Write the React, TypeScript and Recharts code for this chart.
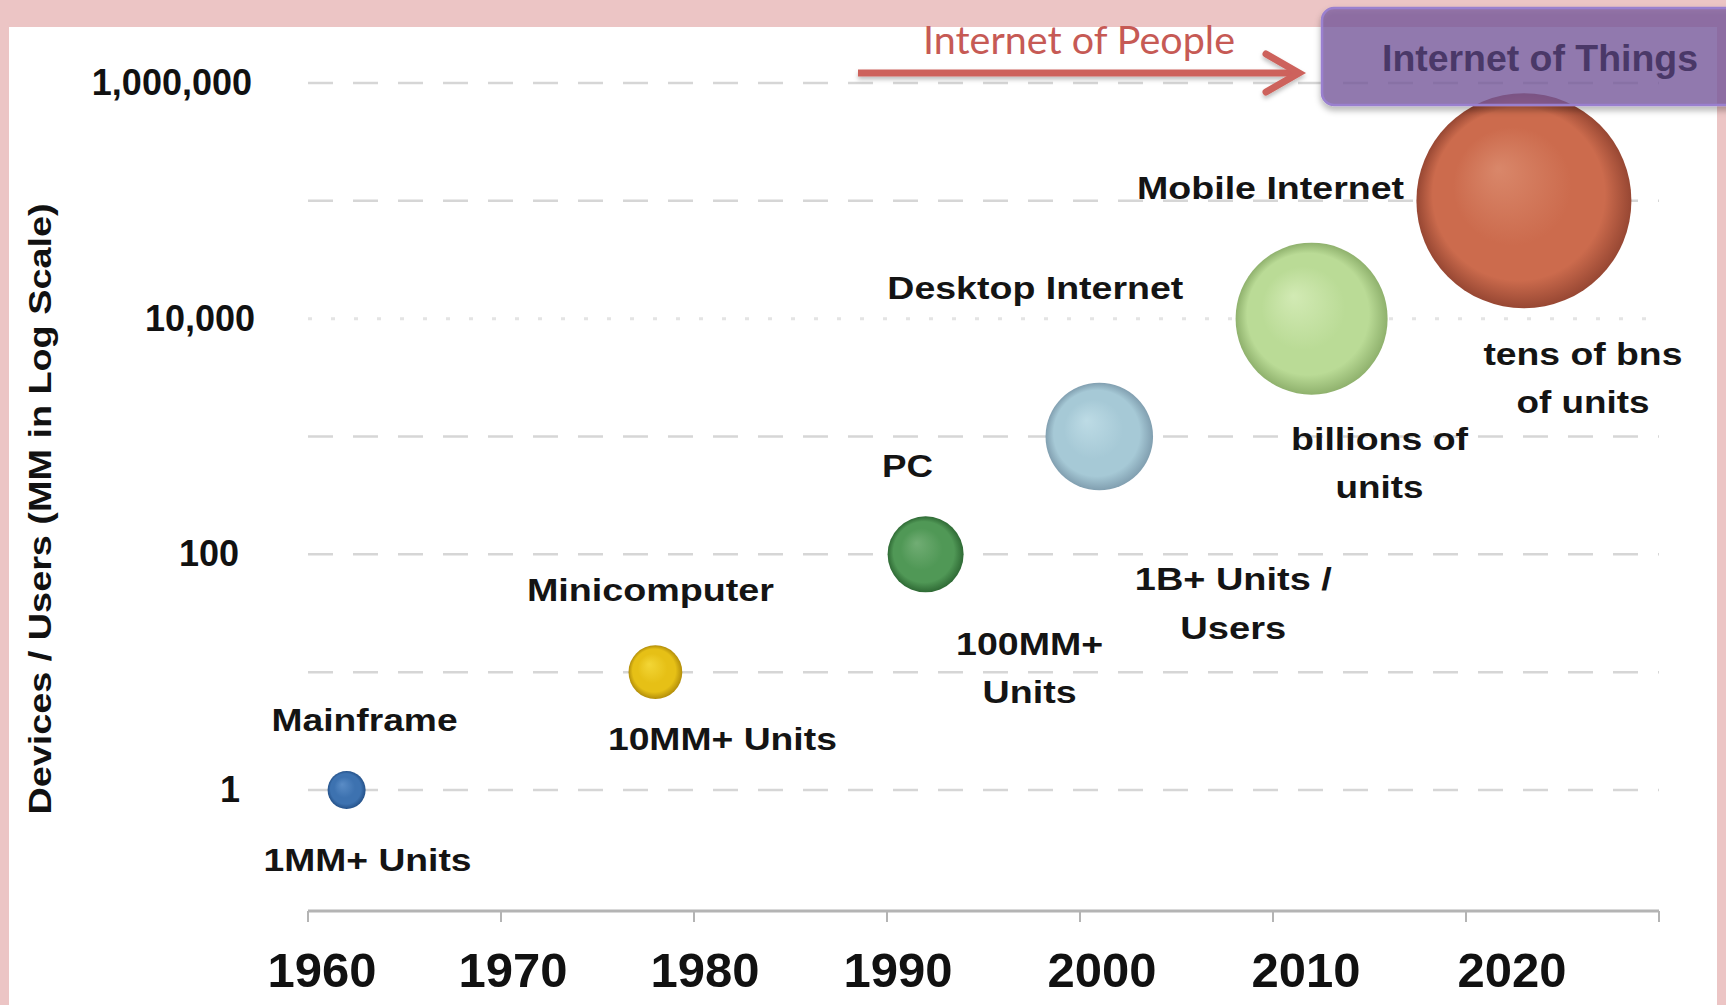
import React from 'react';
import { ScatterChart, Scatter, XAxis, YAxis, ZAxis, ReferenceLine } from 'recharts';

// ---------- data ----------
const YEARS = [1962, 1978, 1992, 2001, 2012, 2023];
const UNITS_MM = [1, 10, 100, 1000, 10000, 100000];
const RELATIVE_SIZE = [1, 2, 4, 8, 16, 32];
const ERA_NAMES = ['Mainframe', 'Minicomputer', 'PC', 'Desktop Internet', 'Mobile Internet', ''];
const UNIT_NOTES = [
  ['1MM+ Units'],
  ['10MM+ Units'],
  ['100MM+', 'Units'],
  ['1B+ Units /', 'Users'],
  ['billions of', 'units'],
  ['tens of bns', 'of units'],
];
const X_TICKS = [1960, 1970, 1980, 1990, 2000, 2010, 2020, 2030];
const X_TICK_LABELS = ['1960', '1970', '1980', '1990', '2000', '2010', '2020', ''];
const Y_TICKS = [1, 100, 10000, 1000000];
const Y_TICK_LABELS = ['1', '100', '10,000', '1,000,000'];
const GRID_VALUES = [1, 10, 100, 1000, 10000, 100000, 1000000];
const Y_TITLE = 'Devices / Users (MM in Log Scale)';
const LEFT_BANNER = 'Internet of People';
const RIGHT_BANNER = 'Internet of Things';

const data = YEARS.map((year, i) => ({
  year,
  value: UNITS_MM[i],
  size: RELATIVE_SIZE[i],
  name: ERA_NAMES[i],
  notes: UNIT_NOTES[i],
  idx: i,
}));

// ---------- styles / layout ----------
const FONT = '"Liberation Sans", Arial, Helvetica, sans-serif';
const W = 1726;
const H = 1005;

const BUBBLE_STYLE = [
  { hi: '#5a8cc6', base: '#3d72b0', edge: '#25528a' },
  { hi: '#f3d636', base: '#e6c016', edge: '#b38e0a' },
  { hi: '#71ad74', base: '#509856', edge: '#2f6a35' },
  { hi: '#bddbe5', base: '#a6c9d6', edge: '#819fb0' },
  { hi: '#d2eab4', base: '#badb96', edge: '#8fb16d' },
  { hi: '#d9876a', base: '#cc6b4d', edge: '#974733' },
];

const LABEL_LAYOUT = [
  { name: { dx: 18, dy: -59, w: 186 }, notes: [{ dx: 21, dy: 81, w: 208 }] },
  { name: { dx: -5, dy: -71, w: 247 }, notes: [{ dx: 67, dy: 78, w: 229 }] },
  { name: { dx: -18, dy: -77, w: 51 }, notes: [{ dx: 104, dy: 101, w: 147 }, { dx: 104, dy: 149, w: 94 }] },
  { name: { dx: -64, dy: -137, w: 296 }, notes: [{ dx: 134, dy: 154, w: 197 }, { dx: 134, dy: 203, w: 106 }] },
  { name: { dx: -41, dy: -120, w: 267 }, notes: [{ dx: 68, dy: 131, w: 177 }, { dx: 68, dy: 179, w: 88 }] },
  { name: null, notes: [{ dx: 59, dy: 164, w: 199 }, { dx: 59, dy: 212, w: 133 }] },
];

const X_LABEL_DX = [14, 12, 11, 11, 22, 33, 46, 0];
const Y_LABEL_DX = [-12, -13, 3, 0];

const Bubble = (props: any) => {
  const { cx, cy, payload } = props;
  const r = props.width ? props.width / 2 : Math.sqrt((props.size ?? 64) / Math.PI);
  const i = payload.idx;
  const st = BUBBLE_STYLE[i];
  const L = LABEL_LAYOUT[i];
  const gid = `bubgrad${i}`;
  return (
    <g>
      <defs>
        <radialGradient id={gid} cx="0.5" cy="0.5" r="0.5" fx="0.38" fy="0.35">
          <stop offset="0%" stopColor={st.hi} />
          <stop offset="55%" stopColor={st.base} />
          <stop offset="80%" stopColor={st.base} />
          <stop offset="100%" stopColor={st.edge} />
        </radialGradient>
      </defs>
      <circle cx={cx} cy={cy} r={r} fill={`url(#${gid})`} />
      {L.name && payload.name ? (
        <text
          x={cx + L.name.dx}
          y={cy + L.name.dy}
          textAnchor="middle"
          textLength={L.name.w}
          lengthAdjust="spacingAndGlyphs"
          fontFamily={FONT}
          fontWeight={700}
          fontSize={31}
          fill="#141414"
        >
          {payload.name}
        </text>
      ) : null}
      {payload.notes.map((t: string, j: number) => (
        <text
          key={j}
          x={cx + L.notes[j].dx}
          y={cy + L.notes[j].dy}
          textAnchor="middle"
          textLength={L.notes[j].w}
          lengthAdjust="spacingAndGlyphs"
          fontFamily={FONT}
          fontWeight={700}
          fontSize={31}
          fill="#141414"
        >
          {t}
        </text>
      ))}
    </g>
  );
};

const XTick = (props: any) => {
  const { x, payload } = props;
  const i = X_TICKS.indexOf(payload.value);
  if (i < 0 || !X_TICK_LABELS[i]) return <g />;
  return (
    <text
      x={x + X_LABEL_DX[i]}
      y={987}
      textAnchor="middle"
      fontFamily={FONT}
      fontWeight={700}
      fontSize={49}
      fill="#111"
    >
      {X_TICK_LABELS[i]}
    </text>
  );
};

const YTick = (props: any) => {
  const { y, payload } = props;
  const i = Y_TICKS.indexOf(payload.value);
  if (i < 0) return <g />;
  return (
    <text
      x={252 + Y_LABEL_DX[i]}
      y={y + 12}
      textAnchor="end"
      fontFamily={FONT}
      fontWeight={700}
      fontSize={36}
      fill="#111"
    >
      {Y_TICK_LABELS[i]}
    </text>
  );
};

export default function App() {
  return (
    <div style={{ position: 'absolute', left: 0, top: 0, width: W, height: H, background: '#ecc5c5', overflow: 'hidden' }}>
      <div style={{ position: 'absolute', left: 9, top: 27, width: 1708, height: 978, background: '#ffffff' }} />
      <div style={{ position: 'absolute', left: 0, top: 0 }}>
        <ScatterChart width={W} height={H} margin={{ top: 27, right: 67, bottom: 34, left: 8 }}>
          <XAxis
            type="number"
            dataKey="year"
            domain={[1960, 2030]}
            ticks={X_TICKS}
            height={60}
            axisLine={{ stroke: '#b4b4b4', strokeWidth: 3 }}
            tickLine={{ stroke: '#b4b4b4', strokeWidth: 2 }}
            tickSize={11}
            tick={<XTick />}
            interval={0}
          />
          <YAxis
            type="number"
            dataKey="value"
            scale="log"
            domain={[0.094, 2985000]}
            ticks={Y_TICKS}
            width={300}
            axisLine={false}
            tickLine={false}
            tick={<YTick />}
            interval={0}
          />
          <ZAxis type="number" dataKey="size" domain={[1, 32]} range={[1134, 36305]} />
          {GRID_VALUES.map((v) => (
            <ReferenceLine
              key={v}
              y={v}
              stroke={v === 10000 ? '#e4e4e4' : '#d6d6d6'}
              strokeWidth={v === 10000 ? 3 : 2.5}
              strokeDasharray={v === 10000 ? '4 19' : '25 20'}
            />
          ))}
          <Scatter data={data} shape={(p: any) => <Bubble {...p} />} isAnimationActive={false} />
        </ScatterChart>
      </div>
      <svg width={W} height={H} style={{ position: 'absolute', left: 0, top: 0, pointerEvents: 'none' }}>
        <defs>
          <filter id="boxShadow" x="-10%" y="-20%" width="130%" height="160%">
            <feDropShadow dx="0" dy="4" stdDeviation="3" floodColor="#000" floodOpacity="0.35" />
          </filter>
          <filter id="arrowShadow" x="-5%" y="-50%" width="110%" height="250%">
            <feDropShadow dx="0" dy="3" stdDeviation="2" floodColor="#000" floodOpacity="0.25" />
          </filter>
        </defs>
        <text
          transform="rotate(-90, 51, 509)"
          x={51}
          y={509}
          textAnchor="middle"
          textLength={611}
          lengthAdjust="spacingAndGlyphs"
          fontFamily={FONT}
          fontWeight={700}
          fontSize={31}
          fill="#111"
        >
          {Y_TITLE}
        </text>
        <g filter="url(#arrowShadow)">
          <line x1={858} y1={73} x2={1295} y2={73} stroke="#cd625c" strokeWidth={7} />
          <polyline
            points="1266,54 1299,73 1266,92"
            fill="none"
            stroke="#cd625c"
            strokeWidth={7}
            strokeLinecap="round"
          />
        </g>
        <text
          x={1079}
          y={54}
          textAnchor="middle"
          textLength={312}
          lengthAdjust="spacingAndGlyphs"
          fontFamily="Lato, 'Open Sans', sans-serif"
          fontSize={38}
          fill="#c65a55"
        >
          {LEFT_BANNER}
        </text>
        <rect
          x={1322}
          y={8}
          width={430}
          height={97}
          rx={12}
          ry={12}
          fill="rgba(120,90,160,0.72)"
          stroke="#9a80cf"
          strokeWidth={2.5}
          filter="url(#boxShadow)"
        />
        <text
          x={1540}
          y={71}
          textAnchor="middle"
          textLength={316}
          lengthAdjust="spacingAndGlyphs"
          fontFamily={FONT}
          fontWeight={700}
          fontSize={37}
          fill="#4a3868"
        >
          {RIGHT_BANNER}
        </text>
      </svg>
    </div>
  );
}
